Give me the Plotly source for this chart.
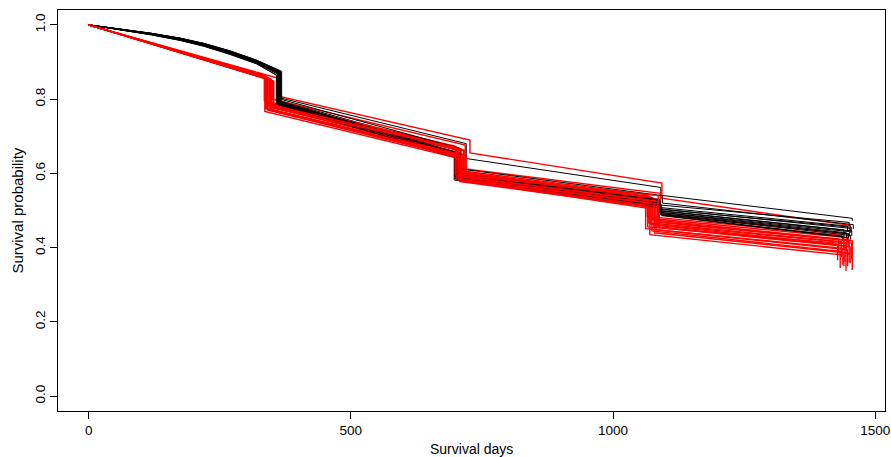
import plotly.graph_objects as go

# ---- data (survival step curves) ----
x_ticks = [0, 500, 1000, 1500]
y_ticks = [0.0, 0.2, 0.4, 0.6, 0.8, 1.0]
y_tick_text = ["0.0", "0.2", "0.4", "0.6", "0.8", "1.0"]
x_title = "Survival days"
y_title = "Survival probability"

# black curves: days of breakpoints and survival values
black_days = [
    [0, 60, 120, 175, 220, 270, 320, 366, 366, 720, 720, 1091, 1091, 1456, 1456],
    [0, 60, 120, 175, 220, 270, 320, 362, 362, 703, 703, 1088, 1088, 1450, 1450],
    [0, 60, 120, 175, 220, 270, 320, 364, 364, 700, 700, 1090, 1090, 1447, 1447],
    [0, 60, 120, 175, 220, 270, 320, 360, 360, 698, 698, 1086, 1086, 1452, 1452],
    [0, 60, 120, 175, 220, 270, 320, 365, 365, 702, 702, 1089, 1089, 1440, 1440],
    [0, 60, 120, 175, 220, 270, 320, 358, 358, 705, 705, 1092, 1092, 1455, 1455],
    [0, 60, 120, 175, 220, 270, 320, 363, 363, 699, 699, 1087, 1087, 1445, 1445],
    [0, 60, 120, 175, 220, 270, 320, 361, 361, 701, 701, 1090, 1090, 1449, 1449],
    [0, 60, 120, 175, 220, 270, 320, 367, 367, 697, 697, 1088, 1088, 1453, 1453],
    [0, 60, 120, 175, 220, 270, 320, 359, 359, 703, 703, 1091, 1091, 1438, 1438],
    [0, 60, 120, 175, 220, 270, 320, 364, 364, 700, 700, 1085, 1085, 1451, 1451],
    [0, 60, 120, 175, 220, 270, 320, 362, 362, 706, 706, 1093, 1093, 1447, 1447],
    [0, 60, 120, 175, 220, 270, 320, 366, 366, 699, 699, 1089, 1089, 1454, 1454],
    [0, 60, 120, 175, 220, 270, 320, 368, 368, 708, 708, 1094, 1094, 1458, 1458],
]
black_surv = [
    [1, 0.989, 0.977, 0.964, 0.950, 0.930, 0.905, 0.875, 0.803, 0.680, 0.640, 0.562, 0.541, 0.479, 0.472],
    [1, 0.988, 0.976, 0.962, 0.947, 0.927, 0.902, 0.872, 0.797, 0.662, 0.601, 0.530, 0.515, 0.468, 0.458],
    [1, 0.987, 0.974, 0.959, 0.944, 0.923, 0.898, 0.868, 0.792, 0.655, 0.595, 0.526, 0.508, 0.458, 0.447],
    [1, 0.988, 0.975, 0.961, 0.946, 0.925, 0.900, 0.870, 0.789, 0.652, 0.592, 0.522, 0.505, 0.452, 0.440],
    [1, 0.989, 0.977, 0.963, 0.949, 0.929, 0.904, 0.874, 0.795, 0.650, 0.589, 0.519, 0.500, 0.448, 0.436],
    [1, 0.987, 0.973, 0.958, 0.943, 0.921, 0.896, 0.865, 0.787, 0.648, 0.587, 0.516, 0.498, 0.445, 0.432],
    [1, 0.988, 0.975, 0.961, 0.946, 0.926, 0.901, 0.870, 0.790, 0.645, 0.585, 0.513, 0.495, 0.440, 0.428],
    [1, 0.989, 0.976, 0.963, 0.948, 0.928, 0.903, 0.872, 0.786, 0.647, 0.583, 0.511, 0.492, 0.437, 0.425],
    [1, 0.988, 0.975, 0.961, 0.946, 0.924, 0.899, 0.868, 0.784, 0.643, 0.582, 0.509, 0.490, 0.433, 0.421],
    [1, 0.987, 0.973, 0.958, 0.942, 0.920, 0.895, 0.864, 0.788, 0.649, 0.586, 0.514, 0.488, 0.430, 0.418],
    [1, 0.989, 0.977, 0.964, 0.949, 0.928, 0.903, 0.873, 0.791, 0.654, 0.590, 0.520, 0.496, 0.443, 0.430],
    [1, 0.988, 0.974, 0.960, 0.944, 0.923, 0.897, 0.866, 0.785, 0.641, 0.580, 0.507, 0.486, 0.427, 0.415],
    [1, 0.988, 0.976, 0.962, 0.947, 0.926, 0.902, 0.871, 0.793, 0.658, 0.597, 0.528, 0.503, 0.455, 0.442],
    [1, 0.989, 0.977, 0.964, 0.950, 0.929, 0.905, 0.875, 0.799, 0.667, 0.612, 0.540, 0.520, 0.462, 0.450],
]

# red curves: straight first segment then steps
red_days = [
    [0, 362, 362, 727, 727, 1093, 1093, 1452, 1452],
    [0, 350, 350, 718, 718, 1090, 1090, 1448, 1448],
    [0, 335, 335, 700, 700, 1065, 1065, 1440, 1440],
    [0, 340, 340, 705, 705, 1070, 1070, 1445, 1445],
    [0, 345, 345, 710, 710, 1075, 1075, 1430, 1430],
    [0, 338, 338, 703, 703, 1080, 1080, 1450, 1450],
    [0, 348, 348, 715, 715, 1068, 1068, 1435, 1435],
    [0, 342, 342, 698, 698, 1072, 1072, 1455, 1455],
    [0, 352, 352, 712, 712, 1085, 1085, 1428, 1428],
    [0, 337, 337, 707, 707, 1078, 1078, 1442, 1442],
    [0, 346, 346, 720, 720, 1088, 1088, 1452, 1452],
    [0, 341, 341, 702, 702, 1062, 1062, 1438, 1438],
    [0, 349, 349, 714, 714, 1082, 1082, 1447, 1447],
    [0, 336, 336, 709, 709, 1074, 1074, 1433, 1433],
    [0, 344, 344, 699, 699, 1086, 1086, 1456, 1456],
    [0, 353, 353, 716, 716, 1066, 1066, 1444, 1444],
    [0, 339, 339, 705, 705, 1079, 1079, 1450, 1450],
    [0, 347, 347, 711, 711, 1070, 1070, 1440, 1440],
]
red_surv = [
    [1, 0.856, 0.808, 0.690, 0.655, 0.574, 0.533, 0.460, 0.445],
    [1, 0.850, 0.800, 0.676, 0.612, 0.546, 0.490, 0.437, 0.402],
    [1, 0.864, 0.796, 0.673, 0.609, 0.542, 0.484, 0.432, 0.396],
    [1, 0.859, 0.791, 0.669, 0.605, 0.538, 0.479, 0.427, 0.390],
    [1, 0.855, 0.788, 0.666, 0.602, 0.535, 0.475, 0.423, 0.385],
    [1, 0.861, 0.785, 0.663, 0.600, 0.532, 0.471, 0.420, 0.380],
    [1, 0.852, 0.782, 0.660, 0.597, 0.529, 0.467, 0.416, 0.375],
    [1, 0.857, 0.780, 0.657, 0.594, 0.526, 0.463, 0.412, 0.370],
    [1, 0.849, 0.777, 0.654, 0.591, 0.523, 0.460, 0.409, 0.366],
    [1, 0.862, 0.775, 0.651, 0.589, 0.520, 0.457, 0.405, 0.362],
    [1, 0.853, 0.773, 0.648, 0.586, 0.517, 0.454, 0.402, 0.358],
    [1, 0.858, 0.771, 0.645, 0.583, 0.514, 0.451, 0.398, 0.354],
    [1, 0.851, 0.769, 0.642, 0.580, 0.511, 0.448, 0.394, 0.350],
    [1, 0.863, 0.767, 0.639, 0.578, 0.508, 0.445, 0.390, 0.345],
    [1, 0.856, 0.778, 0.670, 0.596, 0.540, 0.468, 0.418, 0.340],
    [1, 0.848, 0.783, 0.663, 0.590, 0.527, 0.456, 0.410, 0.338],
    [1, 0.860, 0.775, 0.650, 0.585, 0.518, 0.440, 0.385, 0.360],
    [1, 0.854, 0.770, 0.646, 0.581, 0.505, 0.435, 0.380, 0.350],
]

fig = go.Figure()
n = max(len(black_days), len(red_days))
for i in range(n):
    if i < len(black_days):
        fig.add_trace(go.Scatter(x=black_days[i], y=black_surv[i], mode="lines",
                                 line=dict(color="black", width=1),
                                 showlegend=False, hoverinfo="skip"))
    if i < len(red_days):
        fig.add_trace(go.Scatter(x=red_days[i], y=red_surv[i], mode="lines",
                                 line=dict(color="#ff0000", width=1.4),
                                 showlegend=False, hoverinfo="skip"))

family = "Liberation Sans, Arial, sans-serif"
tick_font = dict(family=family, size=13.5, color="black")
xt_font = dict(family=family, size=14, color="black")
yt_font = dict(family=family, size=15, color="black")
fig.update_layout(
    width=891, height=457,
    margin=dict(l=58, r=6, t=10, b=46, autoexpand=False),
    paper_bgcolor="white", plot_bgcolor="white",
    font=tick_font,
    xaxis=dict(range=[-58.4, 1518.4], tickvals=x_ticks, ticks="outside", ticklen=7,
               tickcolor="black", showline=True, linecolor="black", linewidth=1,
               mirror=True, showgrid=False, zeroline=False, automargin=False,
               tickfont=tick_font, ticklabeloverflow="allow"),
    yaxis=dict(range=[-0.04, 1.04], tickvals=y_ticks, ticktext=y_tick_text,
               tickangle=-90, ticks="outside", ticklen=7, tickcolor="black",
               showline=True, linecolor="black", linewidth=1, mirror=True,
               showgrid=False, zeroline=False, automargin=False, tickfont=tick_font,
               ticklabeloverflow="allow"),
    annotations=[
        dict(text=x_title, xref="paper", yref="paper", x=0.5, y=-0.095,
             xanchor="center", yanchor="middle", showarrow=False, font=xt_font),
        dict(text=y_title, xref="paper", yref="paper", x=-0.0495, y=0.5,
             xanchor="center", yanchor="middle", textangle=-90, showarrow=False,
             font=yt_font),
    ],
)
fig.write_html("out.html", config={"displayModeBar": False},
               post_script="document.body.style.margin='0';document.body.style.padding='0';")
